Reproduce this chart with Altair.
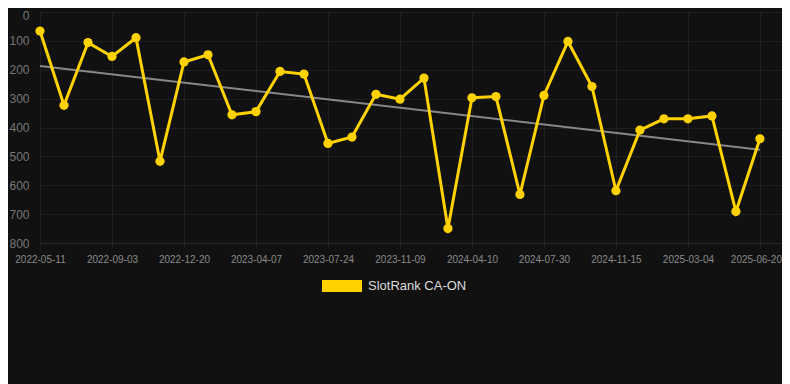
import altair as alt
import pandas as pd

# Data (rank, lower is better; y axis reversed)
ranks = [66, 323, 106, 154, 89, 517, 173, 148, 356, 345,
         206, 215, 455, 433, 285, 302, 229, 750, 297, 293,
         632, 289, 102, 258, 619, 409, 370, 370, 360, 691, 439]
tick_labels = ["2022-05-11", "2022-09-03", "2022-12-20", "2023-04-07",
               "2023-07-24", "2023-11-09", "2024-04-10", "2024-07-30",
               "2024-11-15", "2025-03-04", "2025-06-20"]
y_ticks = [0, 100, 200, 300, 400, 500, 600, 700, 800]
series_name = "SlotRank CA-ON"

df = pd.DataFrame({
    "idx": list(range(len(ranks))),
    "rank": ranks,
    "series": [series_name] * len(ranks),
})

GOLD = "#FFD200"
GRID = "#1f1f1f"

label_array = "[" + ",".join("'%s'" % s for s in tick_labels) + "]"
last_tick = (len(tick_labels) - 1) * 3

x_enc = alt.X(
    "idx:Q",
    scale=alt.Scale(domain=[0, 30.92], nice=False, zero=False),
    axis=alt.Axis(
        title=None,
        values=[i * 3 for i in range(len(tick_labels))],
        labelExpr=label_array + "[round(datum.value/3)]",
        labelFontSize=10,
        labelColor="#8a8a8a",
        labelFont="Liberation Sans",
        labelPadding=6,
        labelOffset=alt.ExprRef(expr="datum.value == %d ? -4 : 0" % last_tick),
        tickSize=5,
        tickColor=GRID,
        domainColor="#2a2a2a",
        gridColor=GRID,
        labelFlush=False,
        labelOverlap=False,
    ),
)
y_enc = alt.Y(
    "rank:Q",
    scale=alt.Scale(domain=[0, 800], reverse=True, nice=False),
    axis=alt.Axis(
        title=None,
        values=y_ticks,
        labelFontSize=12,
        labelColor="#777777",
        labelFont="Liberation Sans",
        labelOffset=alt.ExprRef(expr="datum.value == 0 ? 3 : 0"),
        ticks=False,
        labelPadding=11,
        domain=False,
        gridColor=GRID,
    ),
)

color_enc = alt.Color(
    "series:N",
    scale=alt.Scale(domain=[series_name], range=[GOLD]),
    legend=alt.Legend(
        title=None,
        orient="none",
        legendX=282,
        legendY=254,
        symbolType="M-1,-0.3L1,-0.3L1,0.3L-1,0.3Z",
        symbolSize=1600,
        symbolFillColor=GOLD,
        symbolStrokeWidth=0,
        labelColor="#dddddd",
        labelFontSize=13,
        labelFont="Liberation Sans",
        labelOffset=6,
    ),
)

base = alt.Chart(df)

trend = base.transform_regression("idx", "rank").mark_line(
    color="#888888", strokeWidth=2
).encode(x=x_enc, y=y_enc)

line = base.mark_line(strokeWidth=3).encode(x=x_enc, y=y_enc, color=color_enc)
points = base.mark_point(filled=True, size=85, opacity=1).encode(
    x=x_enc, y=y_enc, color=color_enc
)

chart = alt.layer(trend, line, points).properties(
    width=742,
    height=231,
    background="#111111",
    padding={"left": 32, "top": 4, "right": 0, "bottom": 141},
    autosize=alt.AutoSizeParams(type="none"),
).configure_view(stroke=None)

chart.save("out.html", embed_options={"renderer": "svg", "actions": False})
